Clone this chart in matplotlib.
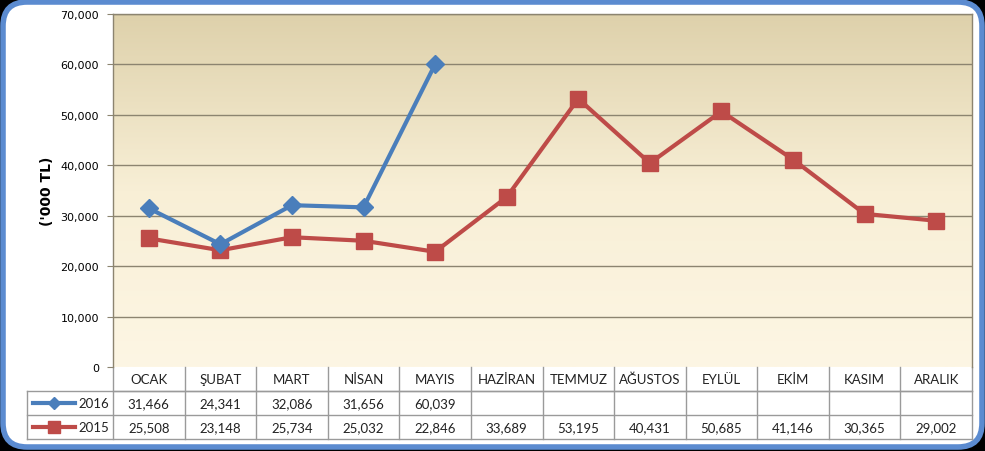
import numpy as np
import matplotlib
matplotlib.use("Agg")
import matplotlib.pyplot as plt
import matplotlib.transforms as mtransforms
from matplotlib.patches import FancyBboxPatch
from matplotlib.lines import Line2D
from matplotlib.colors import LinearSegmentedColormap

# veriler
aylar = ["OCAK", "ŞUBAT", "MART", "NİSAN", "MAYIS", "HAZİRAN", "TEMMUZ",
         "AĞUSTOS", "EYLÜL", "EKİM", "KASIM", "ARALIK"]
y2016 = [31466, 24341, 32086, 31656, 60039]
y2015 = [25508, 23148, 25734, 25032, 22846, 33689, 53195, 40431, 50685,
         41146, 30365, 29002]
yticks = [0, 10000, 20000, 30000, 40000, 50000, 60000, 70000]

mavi = "#4A7EBB"
kirmizi = "#BE4B48"
gri = "#8C8470"
tablo_gri = "#9A9A9A"

W, H = 985, 452
fig = plt.figure(figsize=(W / 100, H / 100), dpi=100)
fig.patch.set_facecolor("black")

# arka plan: mavi kenarlı yuvarlak kutu
bg = fig.add_axes([0, 0, 1, 1])
bg.set_xlim(0, W)
bg.set_ylim(H, 0)
bg.axis("off")
kutu = FancyBboxPatch((3, 3), W - 6, H - 7, boxstyle="round,pad=0,rounding_size=24",
                      facecolor="white", edgecolor="#5B8BD0", linewidth=4)
bg.add_patch(kutu)

# grafik alanı
x0, x1, ytop, ybot = 113, 972, 15, 368
ax = fig.add_axes([x0 / W, 1 - ybot / H, (x1 - x0) / W, (ybot - ytop) / H])
ax.set_facecolor("none")
ax.set_xlim(-0.5, len(aylar) - 0.5)
ax.set_ylim(0, 70000)

# gradyan
cmap = LinearSegmentedColormap.from_list("g", ["#FDF6E4", "#F8EFD6", "#DED1AB"])
grad = np.linspace(0, 1, 256).reshape(-1, 1)
ax.imshow(grad, cmap=cmap, aspect="auto", origin="lower",
          extent=[-0.5, len(aylar) - 0.5, 0, 70000], zorder=0)

ax.set_yticks(yticks)
ax.set_yticklabels([f"{v:,}" for v in yticks], fontsize=8, family="DejaVu Sans")
ax.tick_params(axis="y", length=4, color=gri, pad=6)
ax.set_xticks([])
for y in yticks[1:]:
    ax.axhline(y, color=gri, linewidth=1, zorder=1)
for s in ax.spines.values():
    s.set_color(gri)
    s.set_linewidth(1)
ax.spines["bottom"].set_visible(False)

ax.set_ylabel("('000 TL)", fontsize=10, fontweight="bold", labelpad=5)

x = np.arange(len(aylar))
ax.plot(x, y2015, color=kirmizi, linewidth=3, marker="s", markersize=11, zorder=3, clip_on=False)
ax.plot(x[:len(y2016)], y2016, color=mavi, linewidth=3, marker="D", markersize=9, zorder=4, clip_on=False)

# veri tablosu
tr = mtransforms.blended_transform_factory(ax.transData, ax.transAxes)
rh = 24 / (ybot - ytop)
sol = -0.5 - (x0 - 27) / ((x1 - x0) / len(aylar))
n = len(aylar)
kw = dict(color=tablo_gri, linewidth=1, transform=tr, clip_on=False)
ax.add_line(Line2D([-0.5, n - 0.5], [-rh, -rh], **kw))
ax.add_line(Line2D([sol, n - 0.5], [-rh, -rh], **kw))
ax.add_line(Line2D([sol, n - 0.5], [-2 * rh, -2 * rh], **kw))
ax.add_line(Line2D([sol, n - 0.5], [-3 * rh, -3 * rh], **kw))
ax.add_line(Line2D([sol, sol], [-rh, -3 * rh], **kw))
for i in range(n + 1):
    ax.add_line(Line2D([i - 0.5, i - 0.5], [0, -3 * rh], **kw))

tf = dict(transform=tr, ha="center", va="center", fontsize=9.5, family="Lato", color="#222222")
for i, a in enumerate(aylar):
    ax.text(i, -0.5 * rh, a, **tf)
for i, v in enumerate(y2016):
    ax.text(i, -1.5 * rh, f"{v:,}", **tf)
for i, v in enumerate(y2015):
    ax.text(i, -2.5 * rh, f"{v:,}", **tf)

# tablo lejantı
cw = (x1 - x0) / n
lx0 = sol + 6 / cw
lx1 = sol + 48 / cw
for row, (lbl, c, m, ms) in enumerate([("2016", mavi, "D", 6), ("2015", kirmizi, "s", 8)]):
    yy = -(1.5 + row) * rh
    ax.add_line(Line2D([lx0, lx1], [yy, yy], color=c, linewidth=3, transform=tr, clip_on=False))
    ax.add_line(Line2D([(lx0 + lx1) / 2], [yy], color=c, marker=m, markersize=ms,
                       transform=tr, clip_on=False))
    ax.text(-0.5 - 4 / cw, yy, lbl, transform=tr, ha="right", va="center",
            fontsize=9.5, family="Lato", color="#222222")

fig.savefig("out.png", dpi=100, facecolor=fig.get_facecolor())
